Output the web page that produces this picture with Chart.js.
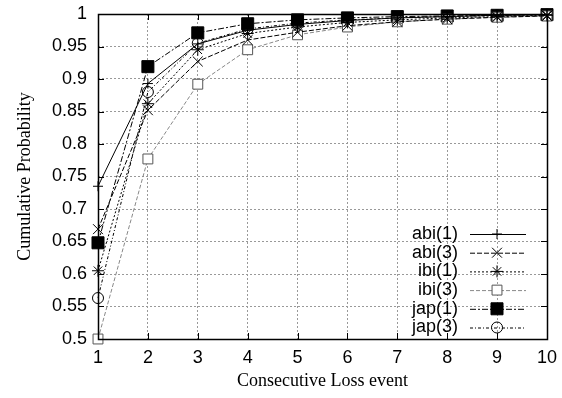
<!DOCTYPE html>
<html>
<head>
<meta charset="utf-8">
<script src="https://cdn.jsdelivr.net/npm/chart.js@4.4.0/dist/chart.umd.min.js"></script>
<style>
  html, body { margin: 0; padding: 0; background: #fff; }
  #wrap { width: 562px; height: 398px; }
</style>
</head>
<body>
<div id="wrap"><canvas id="cdf"></canvas></div>
<script>
// consecutive loss event length
const lossEvents = [1, 2, 3, 4, 5, 6, 7, 8, 9, 10];
const yTicks = [0.5, 0.55, 0.6, 0.65, 0.7, 0.75, 0.8, 0.85, 0.9, 0.95, 1];

// cumulative probability per trace
const abi1 = [0.735, 0.893, 0.954, 0.975, 0.984, 0.990, 0.994, 0.996, 0.998, 0.999];
const abi3 = [0.669, 0.852, 0.927, 0.960, 0.972, 0.982, 0.988, 0.992, 0.995, 0.997];
const ibi1 = [0.605, 0.862, 0.945, 0.970, 0.980, 0.987, 0.991, 0.994, 0.996, 0.998];
const ibi3 = [0.500, 0.777, 0.892, 0.945, 0.968, 0.980, 0.988, 0.992, 0.995, 0.997];
const jap1 = [0.648, 0.919, 0.971, 0.985, 0.991, 0.994, 0.996, 0.997, 0.998, 0.999];
const jap3 = [0.563, 0.880, 0.955, 0.977, 0.986, 0.991, 0.994, 0.996, 0.998, 0.999];

const SANS = 'Liberation Sans, Arial, sans-serif';
const SERIF = 'Liberation Serif, Times New Roman, serif';

function series(label, values, opts) {
    return Object.assign({
        label: label,
        data: values.map((v, i) => ({ x: lossEvents[i], y: v })),
        borderColor: '#000',
        backgroundColor: 'transparent',
        pointBorderColor: '#000',
        pointBackgroundColor: 'transparent',
        borderWidth: 1,
        pointBorderWidth: 1,
        tension: 0,
        clip: false
    }, opts);
}

const datasets = [
    series('abi(1)', abi1, { pointStyle: 'cross', pointRadius: 5 }),
    series('abi(3)', abi3, { pointStyle: 'crossRot', pointRadius: 7, borderDash: [5, 2] }),
    series('ibi(1)', ibi1, { pointStyle: 'star', pointRadius: 6, borderDash: [2, 2] }),
    series('ibi(3)', ibi3, { pointStyle: 'rect', pointRadius: 7, borderColor: '#888', pointBorderColor: '#555', pointBackgroundColor: '#fff', borderDash: [4, 2] }),
    series('jap(1)', jap1, { pointStyle: 'rect', pointRadius: 8.5, pointBackgroundColor: '#000', borderDash: [6, 2, 2, 2] }),
    series('jap(3)', jap3, { pointStyle: 'circle', pointRadius: 5.5, borderDash: [3, 2, 1, 2] })
];

// gnuplot-like frame, inward tick marks and key
const framePlugin = {
    id: 'frame',
    afterDatasetsDraw(chart) {
        const { ctx, chartArea: a, scales } = chart;
        ctx.save();
        ctx.strokeStyle = '#000';
        ctx.lineWidth = 1;
        ctx.setLineDash([]);
        ctx.beginPath();
        const len = 6;
        yTicks.forEach(v => {
            const y = Math.round(scales.y.getPixelForValue(v)) + 0.5;
            ctx.moveTo(a.left, y); ctx.lineTo(a.left + len, y);
            ctx.moveTo(a.right, y); ctx.lineTo(a.right - len, y);
        });
        lossEvents.forEach(v => {
            const x = Math.round(scales.x.getPixelForValue(v)) + 0.5;
            ctx.moveTo(x, a.bottom); ctx.lineTo(x, a.bottom - len);
            ctx.moveTo(x, a.top); ctx.lineTo(x, a.top + len);
        });
        ctx.stroke();
        ctx.lineWidth = 1.5;
        ctx.strokeRect(Math.round(a.left) + 0.5, Math.round(a.top) + 0.5,
            Math.round(a.right - a.left), Math.round(a.bottom - a.top));

        // key, bottom right
        ctx.font = '18px ' + SANS;
        ctx.textAlign = 'right';
        ctx.textBaseline = 'middle';
        chart.data.datasets.forEach((ds, i) => {
            const y = 234 + i * 18.7;
            ctx.fillStyle = '#000';
            ctx.fillText(ds.label, 458, y);
            ctx.strokeStyle = ds.borderColor;
            ctx.lineWidth = 1;
            ctx.setLineDash(ds.borderDash || []);
            ctx.beginPath();
            ctx.moveTo(470, y + 0.5);
            ctx.lineTo(526, y + 0.5);
            ctx.stroke();
            ctx.setLineDash([]);
            ctx.strokeStyle = ds.pointBorderColor;
            ctx.fillStyle = ds.pointBackgroundColor;
            Chart.helpers.drawPoint(ctx, {
                pointStyle: ds.pointStyle, radius: ds.pointRadius, borderWidth: 1, rotation: 0
            }, 497, y);
        });
        ctx.restore();
    }
};

new Chart(document.getElementById('cdf'), {
    type: 'line',
    data: { datasets: datasets },
    options: {
        responsive: true,
        maintainAspectRatio: false,
        animation: false,
        layout: { padding: { top: 14, right: 15, left: 0, bottom: 0 } },
        plugins: {
            legend: { display: false },
            tooltip: { enabled: false }
        },
        scales: {
            x: {
                type: 'linear',
                min: 1,
                max: 10,
                ticks: { stepSize: 1, color: '#000', padding: 8, font: { family: SANS, size: 18 } },
                grid: { color: '#999', lineWidth: 1, drawTicks: false },
                border: { display: false, dash: [2, 2] },
                title: {
                    display: true,
                    text: 'Consecutive Loss event',
                    color: '#000',
                    font: { family: SERIF, size: 18 },
                    padding: { top: 4, bottom: 6 }
                },
                afterFit(scale) {
                    scale.height = 59;
                    scale.paddingLeft = 0;
                    scale.paddingRight = 0;
                }
            },
            y: {
                min: 0.5,
                max: 1,
                afterBuildTicks(scale) { scale.ticks = yTicks.map(v => ({ value: v })); },
                ticks: {
                    color: '#000',
                    padding: 11,
                    font: { family: SANS, size: 18 },
                    callback: v => String(+v.toFixed(2))
                },
                grid: { color: '#999', lineWidth: 1, drawTicks: false },
                border: { display: false, dash: [2, 2] },
                title: {
                    display: true,
                    text: 'Cumulative Probability',
                    color: '#000',
                    font: { family: SERIF, size: 18 },
                    padding: { top: 14, bottom: 0 }
                },
                afterFit(scale) {
                    scale.width = 98;
                    scale.paddingTop = 0;
                    scale.paddingBottom = 0;
                }
            }
        }
    },
    plugins: [framePlugin]
});
</script>
</body>
</html>
